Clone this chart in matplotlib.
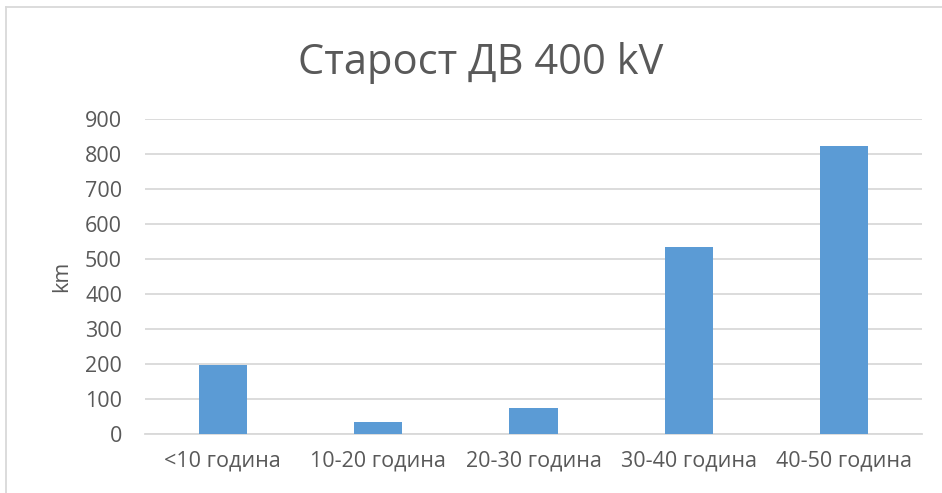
import matplotlib
matplotlib.use("Agg")
import matplotlib.pyplot as plt
from matplotlib.lines import Line2D

categories = ["<10 година", "10-20 година", "20-30 година", "30-40 година", "40-50 година"]
values = [196, 33, 75, 533, 824]
yticks = [0, 100, 200, 300, 400, 500, 600, 700, 800, 900]

W, H = 942, 493
plt.rcParams['font.family'] = ['Open Sans', 'DejaVu Sans']
fig = plt.figure(figsize=(W / 100, H / 100), dpi=100)
fig.patch.set_facecolor("white")

# plot area in pixels
x0, x1 = 145, 922
y_top, y_bot = 119, 434
ax = fig.add_axes([x0 / W, 1 - y_bot / H, (x1 - x0) / W, (y_bot - y_top) / H])

xs = list(range(len(categories)))
ax.bar(xs, values, width=0.31, color="#5b9bd5", zorder=3)
ax.set_xlim(-0.5, len(categories) - 0.5)
ax.set_ylim(0, 900)
ax.set_yticks(yticks)
ax.set_xticks(xs)
ax.set_xticklabels(categories)
ax.grid(axis="y", color="#d9d9d9", linewidth=1.3, zorder=0)
for s in ["top", "right", "left"]:
    ax.spines[s].set_visible(False)
ax.spines["bottom"].set_color("#d9d9d9")
ax.spines["bottom"].set_linewidth(1.3)
ax.tick_params(axis="both", length=0, colors="#595959", labelsize=15.5)
ax.tick_params(axis="x", pad=12)
ax.tick_params(axis="y", pad=16.5)
ax.set_ylabel("km", color="#595959", fontsize=15.5)
ax.yaxis.set_label_coords((72 - x0) / (x1 - x0), 0.5)

fig.text(481 / W, 1 - 63 / H, "Старост ДВ 400 kV", ha="center", va="center",
         fontsize=30, color="#595959")

# chart frame (left and top edges visible)
fig.add_artist(Line2D([6 / W, 6 / W], [0, 1 - 7 / H], transform=fig.transFigure,
                      color="#d9d9d9", linewidth=1.3))
fig.add_artist(Line2D([6 / W, 1], [1 - 7 / H, 1 - 7 / H], transform=fig.transFigure,
                      color="#d9d9d9", linewidth=1.3))

fig.savefig("out.png", dpi=100, facecolor="white")
